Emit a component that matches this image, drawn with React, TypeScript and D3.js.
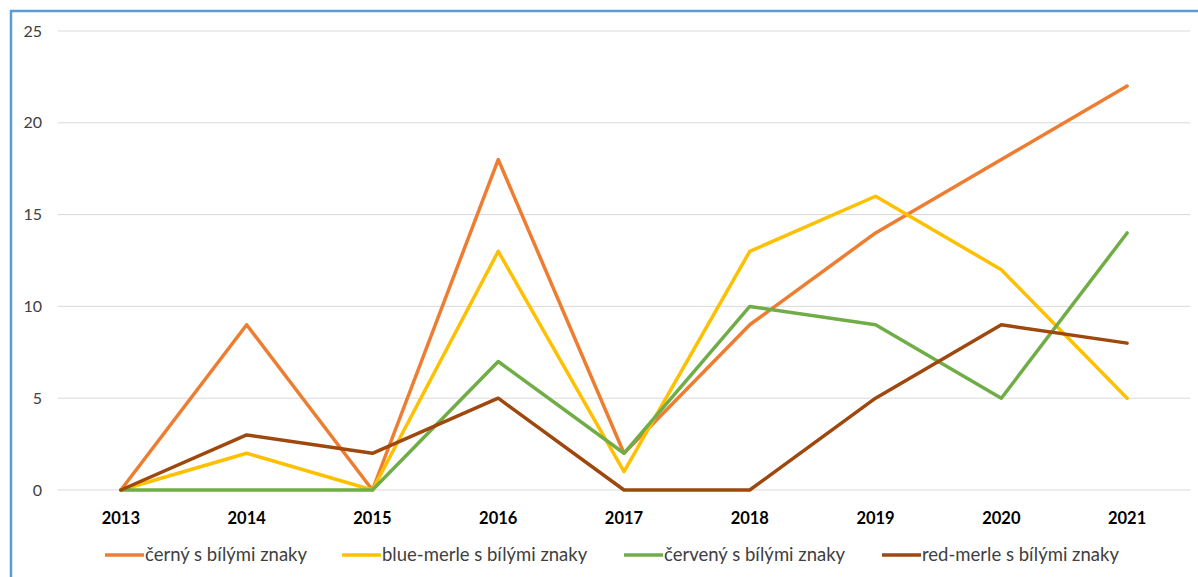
import React from "react";
import * as d3 from "d3";

const years = ["2013", "2014", "2015", "2016", "2017", "2018", "2019", "2020", "2021"];
const cerny = [0, 9, 0, 18, 2, 9, 14, 18, 22];
const blueMerle = [0, 2, 0, 13, 1, 13, 16, 12, 5];
const cerveny = [0, 0, 0, 7, 2, 10, 9, 5, 14];
const redMerle = [0, 3, 2, 5, 0, 0, 5, 9, 8];
const seriesNames = ["černý s bílými znaky", "blue-merle s bílými znaky", "červený s bílými znaky", "red-merle s bílými znaky"];
const seriesColors = ["#ED7D31", "#FFC000", "#70AD47", "#9E480E"];
const yTicks = [0, 5, 10, 15, 20, 25];

const W = 1198, H = 577;
const FONT = "Lato, 'Open Sans', sans-serif";

export default function App() {
  const x = d3.scaleBand<string>().domain(years).range([58, 1190]);
  const y = d3.scaleLinear().domain([0, 25]).range([490, 31]);
  const line = d3.line<number>()
    .x((_, i) => (x(years[i]) as number) + x.bandwidth() / 2)
    .y((d) => y(d));
  const all = [cerny, blueMerle, cerveny, redMerle];
  const legendX = [105, 342, 624, 882];
  return (
    <div style={{ position: "absolute", left: 0, top: 0 }}>
      <svg width={W} height={H} style={{ display: "block", background: "#fff" }}>
        <path d={`M11,${H} V11 H${W}`} fill="none" stroke="#5B9BD5" strokeWidth={2.5} />
        {yTicks.map((t) => (
          <g key={t}>
            <line x1={58} x2={1190} y1={y(t)} y2={y(t)} stroke="#D9D9D9" strokeWidth={1} />
            <text x={42} y={y(t)} dy="0.35em" textAnchor="end" fontFamily={FONT} fontSize={16} fill="#404040">{t}</text>
          </g>
        ))}
        {years.map((yr) => (
          <text key={yr} x={(x(yr) as number) + x.bandwidth() / 2} y={518} dy="0.35em" textAnchor="middle" fontFamily={FONT} fontSize={16.5} fontWeight="bold" fill="#000">{yr}</text>
        ))}
        {all.map((s, i) => (
          <path key={i} d={line(s) || ""} fill="none" stroke={seriesColors[i]} strokeWidth={3.5} strokeLinejoin="round" strokeLinecap="round" />
        ))}
        {seriesNames.map((n, i) => (
          <g key={n}>
            <line x1={legendX[i]} x2={legendX[i] + 39} y1={555} y2={555} stroke={seriesColors[i]} strokeWidth={3.5} />
            <text x={legendX[i] + 40} y={555} dy="0.35em" fontFamily={FONT} fontSize={18.5} fill="#404040">{n}</text>
          </g>
        ))}
      </svg>
    </div>
  );
}
